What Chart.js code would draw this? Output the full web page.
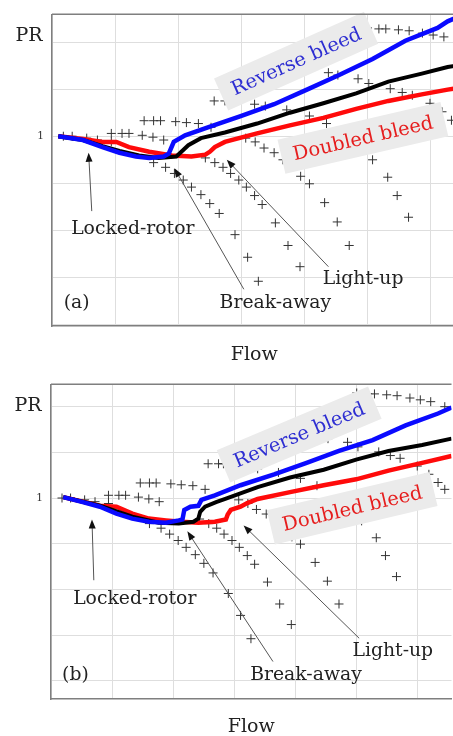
<!DOCTYPE html>
<html><head><meta charset="utf-8">
<script src="https://cdn.jsdelivr.net/npm/chart.js@4.4.0/dist/chart.umd.min.js"></script>
<style>
html,body{margin:0;padding:0;background:#fff;overflow:hidden;width:453px;height:736px;position:relative;}
#wa{position:absolute;left:0;top:0;width:462px;height:370px;}
#wb{position:absolute;left:0;top:370px;width:457px;height:366px;}
</style></head><body>
<div id="wa"><canvas id="ca"></canvas></div>
<div id="wb"><canvas id="cb"></canvas></div>
<script>
// ---- constant-speed lines (+ markers), shared by both panels: [flow, PR]
const speedA = [[0.18,1.000],[0.32,1.000],[0.55,0.996],[0.72,0.992],[0.94,0.988],[1.61,0.944],[1.80,0.934],[1.94,0.921],[2.08,0.907],[2.21,0.892],[2.36,0.876],[2.50,0.857],[2.65,0.836],[2.90,0.791],[3.10,0.743],[3.27,0.692]];
const speedB = [[0.94,1.006],[1.11,1.006],[1.22,1.006],[1.43,1.002],[1.60,0.998],[1.77,0.992],[2.43,0.954],[2.58,0.944],[2.71,0.934],[2.83,0.921],[2.96,0.907],[3.08,0.892],[3.21,0.874],[3.33,0.855],[3.54,0.816],[3.74,0.768],[3.93,0.723]];
const speedC = [[1.46,1.033],[1.61,1.033],[1.72,1.033],[1.96,1.031],[2.13,1.029],[2.32,1.027],[2.52,1.019],[3.07,0.996],[3.22,0.988],[3.36,0.975],[3.52,0.965],[3.66,0.950],[3.94,0.915],[4.08,0.899],[4.32,0.859],[4.52,0.818],[4.71,0.768]];
const speedD = [[2.57,1.075],[2.74,1.075],[2.82,1.075],[3.21,1.068],[3.38,1.064],[3.72,1.056],[4.08,1.043],[4.35,1.027],[5.08,0.950],[5.32,0.913],[5.47,0.874],[5.65,0.828]];
const speedE = [[4.38,1.135],[4.53,1.130],[4.85,1.122],[5.02,1.112],[5.36,1.101],[5.55,1.093],[5.71,1.087],[5.99,1.070],[6.18,1.052],[6.33,1.034],[6.44,1.019]];
const speedF = [[5.00,1.230],[5.18,1.228],[5.29,1.228],[5.49,1.226],[5.66,1.224],[5.87,1.219],[6.04,1.215],[6.21,1.211],[6.44,1.200]];

// ---- panel (a) trajectories
const reverseA = [[0.10,1.000],[0.49,0.992],[0.80,0.977],[1.07,0.965],[1.33,0.957],[1.54,0.954],[1.77,0.957],[1.85,0.963],[1.93,0.988],[2.11,1.002],[2.47,1.019],[2.99,1.043],[3.52,1.068],[4.04,1.099],[4.55,1.130],[5.08,1.164],[5.60,1.203],[6.11,1.230],[6.27,1.244],[6.41,1.252]];
const baselineA = [[0.10,1.000],[0.49,0.992],[0.80,0.979],[1.07,0.969],[1.38,0.959],[1.69,0.954],[1.97,0.957],[2.05,0.967],[2.16,0.981],[2.36,0.996],[2.74,1.008],[3.25,1.027],[3.77,1.050],[4.30,1.070],[4.82,1.091],[5.33,1.116],[5.86,1.133],[6.27,1.147],[6.41,1.150]];
const doubledA = [[0.10,1.000],[0.49,0.994],[0.80,0.988],[1.02,0.988],[1.22,0.977],[1.54,0.967],[1.90,0.959],[2.21,0.957],[2.43,0.961],[2.50,0.967],[2.58,0.977],[2.74,0.988],[3.25,1.006],[3.77,1.023],[4.30,1.039],[4.82,1.058],[5.33,1.075],[5.86,1.089],[6.27,1.099],[6.41,1.102]];

// ---- panel (b) trajectories
const reverseB = [[0.20,1.002],[0.52,0.991],[0.80,0.981],[1.07,0.966],[1.33,0.955],[1.60,0.948],[1.88,0.946],[2.09,0.951],[2.15,0.953],[2.18,0.974],[2.28,0.981],[2.41,0.983],[2.46,0.996],[2.68,1.006],[3.10,1.028],[3.65,1.052],[4.18,1.077],[4.71,1.103],[5.26,1.127],[5.80,1.159],[6.33,1.185],[6.55,1.198]];
const baselineB = [[0.20,1.002],[0.80,0.983],[1.33,0.959],[1.76,0.946],[2.09,0.944],[2.33,0.948],[2.41,0.955],[2.44,0.970],[2.52,0.981],[2.70,0.991],[2.85,0.998],[3.38,1.024],[3.91,1.045],[4.46,1.062],[4.99,1.084],[5.52,1.103],[6.07,1.116],[6.55,1.130]];
const doubledB = [[0.20,1.002],[0.80,0.983],[1.07,0.981],[1.33,0.966],[1.60,0.955],[1.88,0.951],[2.14,0.948],[2.41,0.946],[2.68,0.948],[2.86,0.953],[2.89,0.964],[2.94,0.974],[3.10,0.981],[3.21,0.989],[3.38,0.998],[3.91,1.013],[4.46,1.028],[4.99,1.041],[5.52,1.060],[6.07,1.077],[6.55,1.092]];

const yGrid = [0.6,0.7,0.8,0.9,1.0,1.1,1.2];
const xGrid = [0,1,2,3,4,5,6];
const tickLabels = {1:'1'};

const FONT = '"DejaVu Serif", "Liberation Serif", serif';

const panelA = {
  xMax:6.41, yMin:0.597, yMax:1.259, padTop:6, yAxisW:52, xAxisH:44, flowDy:34,
  lines:[reverseA, baselineA, doubledA],
  labels:[{t:'Locked-rotor',x:1.28,y:0.792},{t:'Break-away',x:3.54,y:0.636},{t:'Light-up',x:4.93,y:0.686},{t:'(a)',x:0.39,y:0.636}],
  arrows:[{f:[0.63,0.841],h:[0.58,0.965]},{f:[3.04,0.675],h:[1.94,0.932]},{f:[4.38,0.723],h:[2.77,0.950]}],
  boxes:[{t:'Reverse bleed',x:3.91,y:1.147,a:24,c:'#2e2ed2'},{t:'Doubled bleed',x:4.95,y:0.983,a:13,c:'#e61e1e'}]
};
const panelB = {
  xMax:6.55, yMin:0.560, yMax:1.249, padTop:8, yAxisW:51, xAxisH:37, flowDy:32.7,
  lines:[reverseB, baselineB, doubledB],
  labels:[{t:'Locked-rotor',x:1.37,y:0.769},{t:'Break-away',x:4.17,y:0.602},{t:'Light-up',x:5.59,y:0.655},{t:'(b)',x:0.40,y:0.602}],
  arrows:[{f:[0.70,0.820],h:[0.67,0.953]},{f:[3.63,0.642],h:[2.23,0.927]},{f:[5.04,0.693],h:[3.15,0.940]}],
  boxes:[{t:'Reverse bleed',x:4.10,y:1.126,a:22.8,c:'#2e2ed2'},{t:'Doubled bleed',x:4.95,y:0.964,a:13.3,c:'#e61e1e'}]
};

const toXY = arr => arr.map(p => ({x:p[0], y:p[1]}));

const annot = {
  id:'annot',
  afterDatasetsDraw(chart, args, opts) {
    const cfg = opts.cfg; if (!cfg) return;
    const ctx = chart.ctx, xs = chart.scales.x, ys = chart.scales.y, ca = chart.chartArea;
    const P = (x,y) => [xs.getPixelForValue(x), ys.getPixelForValue(y)];
    // label boxes
    cfg.boxes.forEach(b => {
      const [px,py] = P(b.x,b.y);
      ctx.save();
      ctx.translate(px,py); ctx.rotate(-b.a*Math.PI/180);
      ctx.font = '19.5px ' + FONT;
      const w = ctx.measureText(b.t).width;
      ctx.fillStyle = '#ebebeb';
      ctx.fillRect(-w/2-12, -24, w+24, 35);
      ctx.fillStyle = b.c; ctx.textAlign='center'; ctx.textBaseline='alphabetic';
      ctx.fillText(b.t, 0, 0);
      ctx.restore();
    });
    // arrows
    cfg.arrows.forEach(a => {
      const [x1,y1] = P(a.f[0],a.f[1]); const [x2,y2] = P(a.h[0],a.h[1]);
      const ang = Math.atan2(y2-y1, x2-x1);
      ctx.save();
      ctx.strokeStyle = '#555'; ctx.lineWidth = 1;
      ctx.beginPath(); ctx.moveTo(x1,y1); ctx.lineTo(x2-6*Math.cos(ang), y2-6*Math.sin(ang)); ctx.stroke();
      ctx.fillStyle = '#111';
      ctx.beginPath();
      ctx.moveTo(x2,y2);
      ctx.lineTo(x2-9*Math.cos(ang)+3.5*Math.sin(ang), y2-9*Math.sin(ang)-3.5*Math.cos(ang));
      ctx.lineTo(x2-9*Math.cos(ang)-3.5*Math.sin(ang), y2-9*Math.sin(ang)+3.5*Math.cos(ang));
      ctx.closePath(); ctx.fill();
      ctx.restore();
    });
    // text labels
    ctx.save();
    ctx.font = '18.8px ' + FONT; ctx.fillStyle = '#222'; ctx.textAlign='center'; ctx.textBaseline='alphabetic';
    cfg.labels.forEach(l => { const [px,py] = P(l.x,l.y); ctx.fillText(l.t, px, py); });
    // axis names
    ctx.font = '19px ' + FONT;
    ctx.fillText('PR', ca.left - 23, ca.top + 27);
    ctx.fillText('Flow', (ca.left+ca.right)/2, ca.bottom + cfg.flowDy);
    // top frame line
    ctx.strokeStyle = '#7f7f7f'; ctx.lineWidth = 1.5;
    ctx.beginPath(); ctx.moveTo(ca.left, ca.top); ctx.lineTo(ca.right, ca.top); ctx.stroke();
    ctx.restore();
  }
};

function makeChart(id, cfg) {
  const lineStyles = [
    {label:'Reverse bleed', color:'#0a0aff', w:4.5},
    {label:'Baseline', color:'#000000', w:4},
    {label:'Doubled bleed', color:'#ff0a0a', w:4.5}
  ];
  const datasets = cfg.lines.map((arr,i) => ({
    label: lineStyles[i].label, data: toXY(arr), showLine:true, borderColor: lineStyles[i].color,
    backgroundColor: lineStyles[i].color, borderWidth: lineStyles[i].w, pointRadius:0, tension:0, order:i
  }));
  [speedA, speedB, speedC, speedD, speedE, speedF].forEach((s,i) => datasets.push({
    label:'Speed '+(i+1), data: toXY(s), showLine:false, pointStyle:'cross', pointRadius:4.5,
    borderColor:'#333', backgroundColor:'#333', pointBorderWidth:1, order:10
  }));
  return new Chart(document.getElementById(id), {
    type:'scatter',
    data:{datasets},
    options:{
      responsive:true, maintainAspectRatio:false, animation:false,
      layout:{padding:{top:cfg.padTop, left:0, right:0, bottom:0}},
      plugins:{legend:{display:false}, tooltip:{enabled:false}, annot:{cfg}},
      scales:{
        x:{type:'linear', min:0, max:cfg.xMax,
           afterFit: s => { s.height = cfg.xAxisH; },
           afterBuildTicks: s => { s.ticks = xGrid.map(v => ({value:v})); },
           ticks:{display:false},
           grid:{color:'#dedede', lineWidth:1, drawTicks:false},
           border:{display:true, color:'#7f7f7f', width:1.5}},
        y:{type:'linear', min:cfg.yMin, max:cfg.yMax,
           afterFit: s => { s.width = cfg.yAxisW; },
           afterBuildTicks: s => { s.ticks = yGrid.map(v => ({value:v})); },
           ticks:{callback: v => tickLabels[Math.round(v*1000)/1000] || '', font:{family:'DejaVu Serif', size:10.5}, color:'#333', padding:8},
           grid:{color:'#dedede', lineWidth:1, drawTicks:false},
           border:{display:true, color:'#7f7f7f', width:1.5}}
      }
    },
    plugins:[annot]
  });
}
makeChart('ca', panelA);
makeChart('cb', panelB);
</script>
</body></html>
